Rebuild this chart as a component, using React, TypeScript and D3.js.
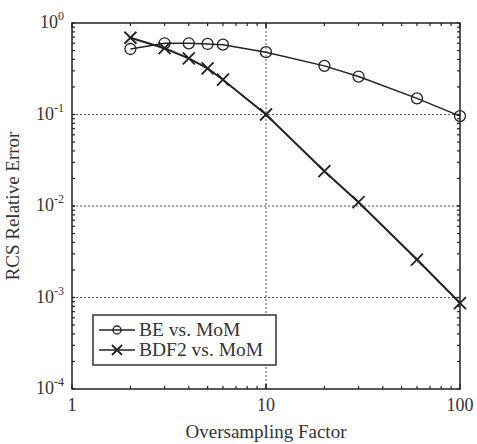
import React, { useEffect, useRef } from 'react';
import * as d3 from 'd3';

const oversampling = [2, 3, 4, 5, 6, 10, 20, 30, 60, 100];
const beErr = [0.52, 0.6, 0.6, 0.59, 0.58, 0.48, 0.34, 0.26, 0.15, 0.096];
const bdf2Err = [0.69, 0.53, 0.41, 0.32, 0.24, 0.1, 0.024, 0.011, 0.0026, 0.00087];
const seriesNames = ['BE vs. MoM', 'BDF2 vs. MoM'];
const xTicks = [1, 10, 100];
const yExps = [0, -1, -2, -3, -4];

const W = 477;
const H = 444;
const m = { left: 72, right: 17, top: 23, bottom: 55 };
const font = '"Liberation Serif", "Times New Roman", serif';

export default function App() {
  const ref = useRef<SVGSVGElement>(null);

  useEffect(() => {
    const svg = d3.select(ref.current);
    svg.selectAll('*').remove();

    const x = d3.scaleLog().domain([1, 100]).range([m.left, W - m.right]);
    const y = d3.scaleLog().domain([1e-4, 1]).range([H - m.bottom, m.top]);
    const x0 = m.left, x1 = W - m.right, y0 = H - m.bottom, y1 = m.top;

    svg.append('rect').attr('width', W).attr('height', H).attr('fill', '#fff');

    // grid at decades
    const g = svg.append('g').attr('stroke', '#555').attr('stroke-dasharray', '2,2').attr('stroke-width', 1);
    [10].forEach(v => g.append('line').attr('x1', x(v)).attr('x2', x(v)).attr('y1', y0).attr('y2', y1));
    [1e-1, 1e-2, 1e-3].forEach(v => g.append('line').attr('x1', x0).attr('x2', x1).attr('y1', y(v)).attr('y2', y(v)));

    // minor/major ticks on all sides
    const t = svg.append('g').attr('stroke', '#222').attr('stroke-width', 1.2);
    const xMinor: number[] = [];
    for (let d = 1; d < 100; d *= 10) for (let k = 1; k <= 10; k++) xMinor.push(d * k);
    xMinor.forEach(v => {
      const len = [1, 10, 100].includes(v) ? 5 : 3;
      t.append('line').attr('x1', x(v)).attr('x2', x(v)).attr('y1', y0).attr('y2', y0 - len);
      t.append('line').attr('x1', x(v)).attr('x2', x(v)).attr('y1', y1).attr('y2', y1 + len);
    });
    const yMinor: number[] = [];
    for (let d = 1e-4; d < 1; d *= 10) for (let k = 1; k <= 10; k++) yMinor.push(d * k);
    yMinor.forEach(v => {
      t.append('line').attr('x1', x0).attr('x2', x0 + 3).attr('y1', y(v)).attr('y2', y(v));
      t.append('line').attr('x1', x1).attr('x2', x1 - 3).attr('y1', y(v)).attr('y2', y(v));
    });

    svg.append('rect').attr('x', x0).attr('y', y1).attr('width', x1 - x0).attr('height', y0 - y1)
      .attr('fill', 'none').attr('stroke', '#222').attr('stroke-width', 1.5);

    // tick labels
    svg.append('g').selectAll('text').data(xTicks).join('text')
      .attr('x', d => x(d)).attr('y', y0 + 22).attr('text-anchor', 'middle')
      .attr('font-family', font).attr('font-size', 18).attr('fill', '#333').text(d => d);

    const yl = svg.append('g').attr('font-family', font).attr('fill', '#333');
    yExps.forEach(e => {
      const tx = yl.append('text').attr('x', x0 - 8).attr('y', y(Math.pow(10, e)) + 5)
        .attr('text-anchor', 'end').attr('font-size', 18);
      tx.append('tspan').text('10');
      tx.append('tspan').attr('font-size', 12).attr('dy', -8).text(e);
    });

    svg.append('text').attr('x', (x0 + x1) / 2).attr('y', H - 6).attr('text-anchor', 'middle')
      .attr('font-family', font).attr('font-size', 19).attr('fill', '#333').text('Oversampling Factor');
    svg.append('text').attr('transform', `translate(19,${(y0 + y1) / 2}) rotate(-90)`).attr('text-anchor', 'middle')
      .attr('font-family', font).attr('font-size', 19).attr('fill', '#333').text('RCS Relative Error');

    const line = d3.line<number>().x((d, i) => x(oversampling[i])).y(d => y(d));

    svg.append('path').attr('d', line(beErr)).attr('fill', 'none').attr('stroke', '#222').attr('stroke-width', 1.5);
    svg.append('path').attr('d', line(bdf2Err)).attr('fill', 'none').attr('stroke', '#222').attr('stroke-width', 2);

    const circ = (gg: any, cx: number, cy: number, r = 5.5) =>
      gg.append('circle').attr('cx', cx).attr('cy', cy).attr('r', r).attr('fill', 'none').attr('stroke', '#222').attr('stroke-width', 1.3);
    const cross = (gg: any, cx: number, cy: number, s = 6) =>
      gg.append('path').attr('d', `M${cx - s},${cy - s}L${cx + s},${cy + s}M${cx - s},${cy + s}L${cx + s},${cy - s}`)
        .attr('stroke', '#222').attr('stroke-width', 1.8);

    const mk = svg.append('g');
    beErr.forEach((v, i) => circ(mk, x(oversampling[i]), y(v)));
    bdf2Err.forEach((v, i) => cross(mk, x(oversampling[i]), y(v)));

    // legend
    const lg = svg.append('g');
    lg.append('rect').attr('x', 93).attr('y', 315).attr('width', 183).attr('height', 50)
      .attr('fill', '#fff').attr('stroke', '#333').attr('stroke-width', 1.5);
    seriesNames.forEach((name, i) => {
      const cy = 330 + i * 20;
      lg.append('line').attr('x1', 99).attr('x2', 135).attr('y1', cy).attr('y2', cy).attr('stroke', '#222').attr('stroke-width', 1.5);
      if (i === 0) circ(lg, 117, cy, 4); else cross(lg, 117, cy, 5);
      lg.append('text').attr('x', 139).attr('y', cy + 6).attr('font-family', font).attr('font-size', 19.5)
        .attr('fill', '#333').text(name);
    });
  }, []);

  return <svg ref={ref} width={W} height={H} style={{ position: 'absolute', left: 0, top: 0 }} />;
}
